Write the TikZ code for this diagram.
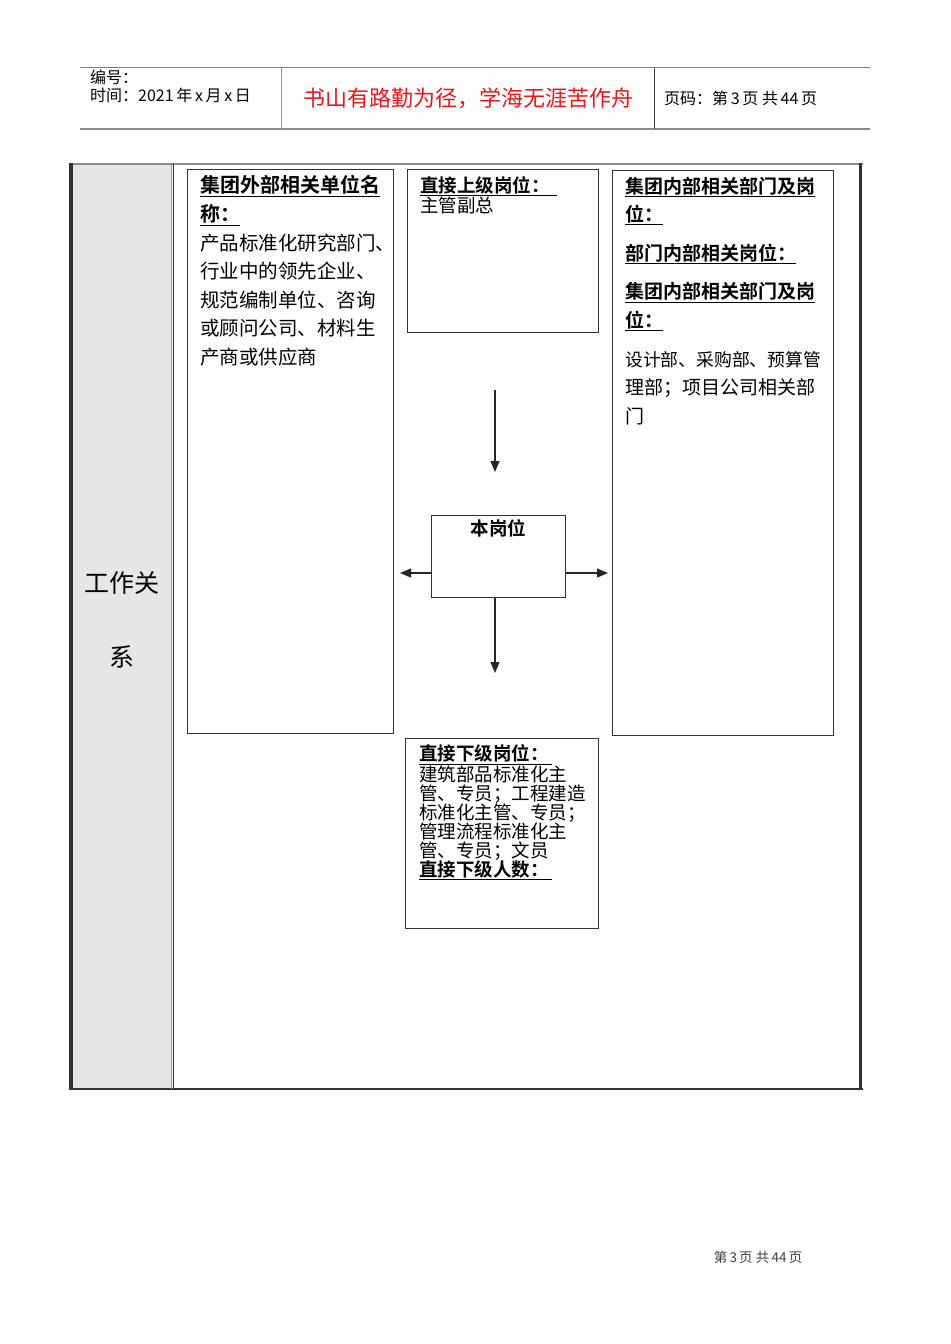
\documentclass[tikz,border=0pt]{standalone}
\usepackage{fontspec}
\setmainfont{Noto Sans CJK SC}[BoldFont={Noto Sans CJK SC Bold}]
\usetikzlibrary{arrows.meta,positioning}
\definecolor{cellgray}{HTML}{E6E6E6}
\definecolor{mottored}{HTML}{E8161B}

\begin{document}
\begin{tikzpicture}[x=1bp,y=-1bp,
    box/.style={draw=black!80,line width=1.3bp,anchor=north west,inner sep=0pt},
    boxtext/.style={anchor=north west,inner sep=0pt,align=left,
      font=\fontsize{19bp}{28.6bp}\selectfont},
    tighttext/.style={anchor=north west,inner sep=0pt,align=left,
      font=\fontsize{18.5bp}{19bp}\selectfont},
    link/.style={-{Triangle[length=11bp,width=9bp]},line width=1.1bp,black!85},
  ]
\useasboundingbox (0,0) rectangle (950,1344);

% page header
\draw[black!50,line width=1bp] (80,68) -- (870,68);
\draw[black!45,line width=2bp] (80,129) -- (870,129);
\draw[black!40,line width=0.8bp] (281,68) -- (281,129);
\draw[black!75,line width=0.8bp] (654,68) -- (654,129);
\node[anchor=north west,inner sep=0pt,align=left,font=\fontsize{16bp}{18bp}\selectfont]
  (docinfo) at (90,70) {编号：\\时间：2021\,年\,x\,月\,x\,日};
\node[inner sep=0pt,text=mottored,font=\fontsize{22bp}{26bp}\selectfont]
  (motto) at (468,98) {书山有路勤为径，学海无涯苦作舟};
\node[anchor=west,inner sep=0pt,font=\fontsize{16bp}{18bp}\selectfont]
  (pageinfo) at (664,98) {页码：第\,3\,页 共\,44\,页};

% table frame
\fill[cellgray] (73,164) rectangle (171,1088);
\draw[black!45,line width=2bp] (70,164) -- (863,164);
\draw[black!80,line width=2bp] (70,1089) -- (863,1089);
\draw[black!80,line width=3.5bp] (71,163) -- (71,1090);
\draw[black!80,line width=3bp] (860.5,163) -- (860.5,1090);
\draw[black!40,line width=1bp] (171,164) -- (171,1089);
\draw[black!80,line width=1bp] (173.5,164) -- (173.5,1089);
\node[align=center,inner sep=0pt,font=\fontsize{25bp}{74bp}\selectfont]
  (relation) at (122,620) {工作关\\系};

% boxes
\node[box,minimum width=206bp,minimum height=564bp] (outside) at (187,169) {};
\node[box,minimum width=191bp,minimum height=163bp] (superior) at (407,169) {};
\node[box,minimum width=221bp,minimum height=565bp] (inside) at (612,170) {};
\node[box,minimum width=134bp,minimum height=82bp] (post) at (431,515) {};
\node[box,minimum width=193bp,minimum height=190bp] (junior) at (405,738) {};

\node[boxtext,font=\fontsize{19.5bp}{28.6bp}\selectfont] at ([shift={(13,6.5)}]outside.north west)
  {\underline{\textbf{\fontsize{20bp}{28.6bp}\selectfont 集团外部相关单位名}}\\
   \underline{\textbf{\fontsize{20bp}{28.6bp}\selectfont 称：}}\\
   产品标准化研究部门、\\
   行业中的领先企业、\\
   规范编制单位、咨询\\
   或顾问公司、材料生\\
   产商或供应商};
\node[tighttext] at ([shift={(13,7)}]superior.north west)
  {\underline{\textbf{直接上级岗位：}\hspace{7bp}}\\
   主管副总};
\node[boxtext] at ([shift={(13,6.5)}]inside.north west)
  {\underline{\textbf{集团内部相关部门及岗}}\\
   \underline{\textbf{位：}}\\[10bp]
   \underline{\textbf{部门内部相关岗位：}}\\[10bp]
   \underline{\textbf{集团内部相关部门及岗}}\\
   \underline{\textbf{位：}}\\[10bp]
   {\fontsize{17.8bp}{28.6bp}\selectfont 设计部、采购部、预算管}\\
   理部；项目公司相关部\\
   门};
\node[below=4bp of post.north,inner sep=0pt,font=\fontsize{18.5bp}{20bp}\selectfont\bfseries]
  (postname) {本岗位};
\node[tighttext] at ([shift={(14,6.7)}]junior.north west)
  {\underline{\textbf{直接下级岗位：}\hspace{3bp}}\\
   建筑部品标准化主\\
   管、专员；工程建造\\
   标准化主管、专员；\\
   管理流程标准化主\\
   管、专员；文员\\
   \underline{\textbf{直接下级人数：}\hspace{3bp}}};

% arrows
\coordinate (upstart) at (495,390);
\coordinate (upend) at (495,472);
\coordinate (westend) at (400,573);
\coordinate (eastend) at (608,573);
\coordinate (downend) at (495,673);
\draw[link] (upstart) -- (upend);
\draw[link] (post.west |- westend) -- (westend);
\draw[link] (post.east |- eastend) -- (eastend);
\draw[link] (post.south -| downend) -- (downend);

% page footer
\node[inner sep=0pt,text=black!75,font=\fontsize{13.5bp}{16bp}\selectfont]
  (footer) at (758,1257) {第\,3\,页 共\,44\,页};
\end{tikzpicture}
\end{document}
